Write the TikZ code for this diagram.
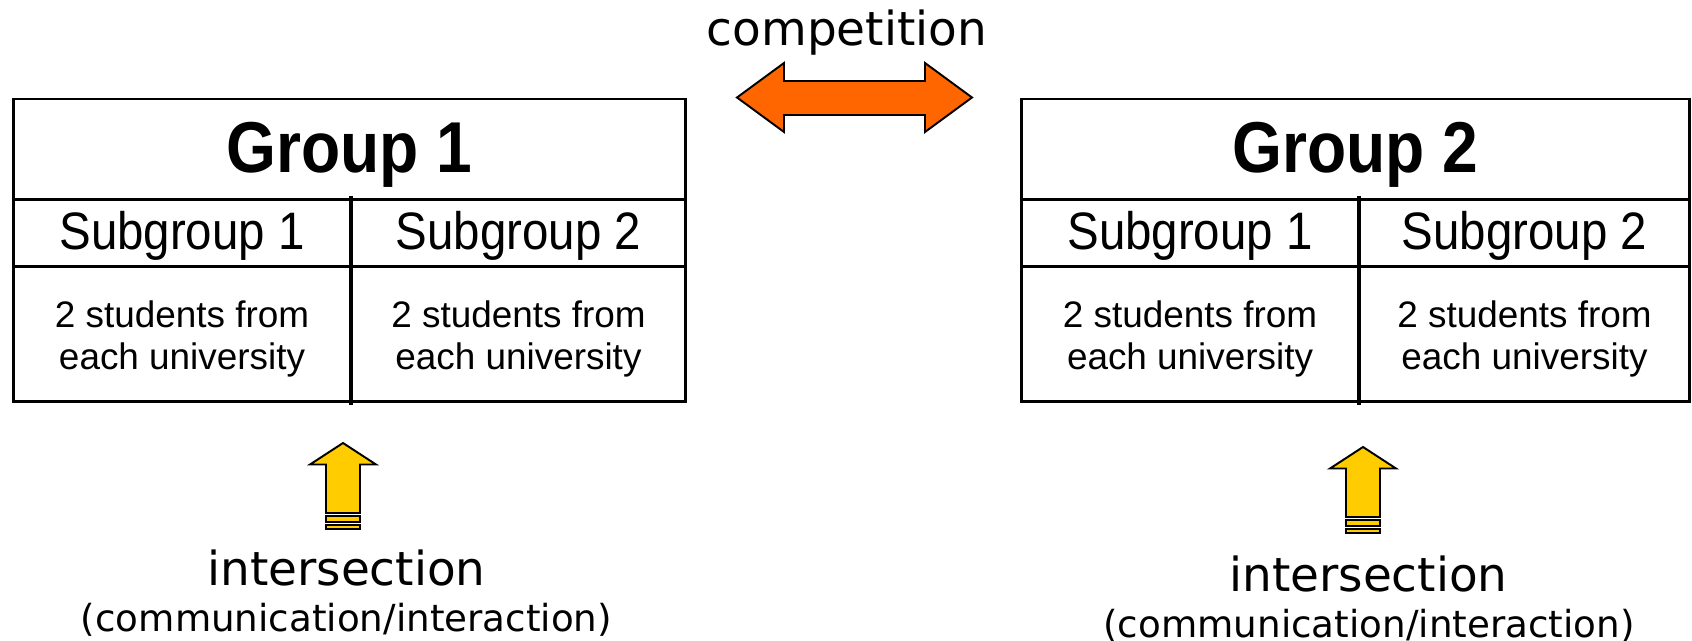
\documentclass[tikz,border=0pt]{standalone}
\usepackage{fontspec}
\setmainfont{Liberation Sans}
\newfontfamily\titlefont{Liberation Sans}[FakeStretch=0.89]
\newfontfamily\subfont{Liberation Sans}[FakeStretch=0.9]
\newfontfamily\labelfont{DejaVu Sans}
\usepackage{tikz}
\usetikzlibrary{positioning}
\definecolor{cmorange}{RGB}{255,102,0}
\definecolor{cmyellow}{RGB}{255,204,0}
\newcommand\bodytext{\rule{0pt}{0.72cm}2 students from\\each university}

\tikzset{
  striparrow/.pic={
    \draw[arrowline, fill=cmyellow] (0,0) -- (33,21.5) -- (17,21.5) -- (17,70)
      -- (-17,70) -- (-17,21.5) -- (-33,21.5) -- cycle;
    \draw[arrowline, fill=cmyellow] (-17,73) rectangle (17,79);
    \draw[arrowline, fill=cmyellow] (-17,82) rectangle (17,86);
  }
}

\begin{document}
\begin{tikzpicture}[x=0.02cm, y=-0.02cm,
    cell/.style={draw, line width=1.7pt, inner sep=0pt, outer sep=0pt},
    titlecell/.style={cell, minimum width=13.46cm, minimum height=2.02cm,
      text height=1.24cm, text depth=0.3cm,
      font=\titlefont\bfseries\fontsize{41}{46}\selectfont},
    subcell/.style={cell, minimum width=6.76cm, minimum height=1.34cm,
      text height=0.86cm, text depth=0.2cm,
      font=\subfont\fontsize{30}{34}\selectfont},
    bodycell/.style={cell, minimum width=6.76cm, minimum height=2.7cm, align=center,
      font=\fontsize{21}{24}\selectfont},
    divider/.style={line width=2.3pt},
    arrowline/.style={draw=black, line width=1.1pt, line join=miter},
    headline/.style={font=\labelfont\fontsize{26.7}{30}\selectfont, inner sep=0pt, anchor=base},
    subline/.style={font=\labelfont\fontsize{21.2}{24}\selectfont, inner sep=0pt, anchor=base}
  ]
  \useasboundingbox (0,0) rectangle (1692,641);

  % group 1
  \node[titlecell] (g1) at (349.5,149.5) {Group 1};
  \node[subcell, below right=0pt and 0pt of g1.south west] (g1s1) {Subgroup 1};
  \node[subcell, minimum width=6.7cm, right=0pt of g1s1] (g1s2) {Subgroup 2};
  \node[bodycell, below=0pt of g1s1] (g1b1) {\bodytext};
  \node[bodycell, minimum width=6.7cm, below=0pt of g1s2] (g1b2) {\bodytext};
  \draw[divider] ([yshift=2pt]g1s1.north east) -- ([yshift=-2pt]g1b1.south east);

  % group 2
  \node[titlecell, minimum width=13.38cm] (g2) at (1355.5,149.5) {Group 2};
  \node[subcell, below right=0pt and 0pt of g2.south west] (g2s1) {Subgroup 1};
  \node[subcell, minimum width=6.62cm, right=0pt of g2s1] (g2s2) {Subgroup 2};
  \node[bodycell, below=0pt of g2s1] (g2b1) {\bodytext};
  \node[bodycell, minimum width=6.62cm, below=0pt of g2s2] (g2b2) {\bodytext};
  \draw[divider] ([yshift=2pt]g2s1.north east) -- ([yshift=-2pt]g2b1.south east);

  % competition
  \node[headline] (comptext) at (847,46) {competition};
  \coordinate (comp) at (854.5,97.5);
  \draw[arrowline, fill=cmorange] (comp) ++(-117.5,0) -- ++(47,-34.5) -- ++(0,18)
    -- ++(141,0) -- ++(0,-18) -- ++(47,34.5) -- ++(-47,34.5) -- ++(0,-17)
    -- ++(-141,0) -- ++(0,17) -- cycle;

  % intersection
  \coordinate (tip1) at (343,443);
  \pic at (tip1) {striparrow};
  \node[headline] (int1) at (346.5,585) {intersection};
  \node[subline] (comm1) at (346.5,631) {(communication/interaction)};

  \coordinate (tip2) at (1363,447);
  \pic at (tip2) {striparrow};
  \node[headline] (int2) at (1368.5,591) {intersection};
  \node[subline] (comm2) at (1369,637) {(communication/interaction)};
\end{tikzpicture}
\end{document}
